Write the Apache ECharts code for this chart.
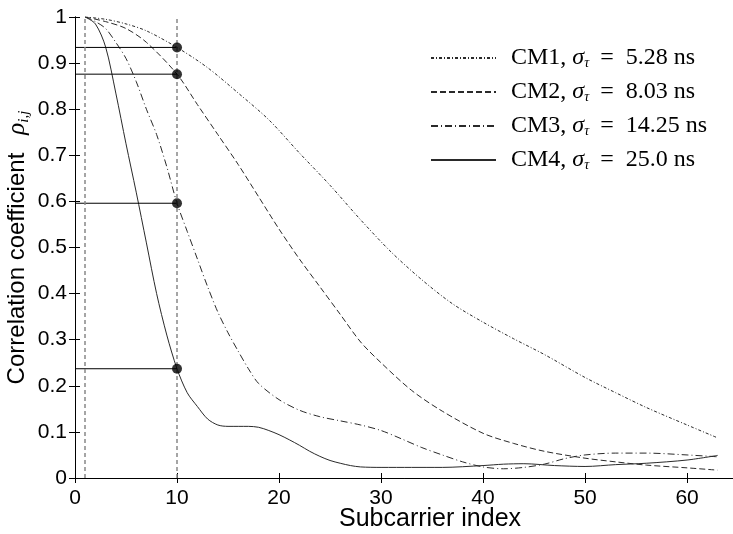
<!DOCTYPE html>
<html>
<head>
<meta charset="utf-8">
<title>Correlation coefficient vs subcarrier index</title>
<script src="https://cdn.jsdelivr.net/npm/echarts@6/dist/echarts.min.js"></script>
<style>
  html, body { margin: 0; padding: 0; background: #fff; }
  #chart { width: 733px; height: 534px; }
</style>
</head>
<body>
<div id="chart"></div>
<script>
// 数据
var names = ["CM1", "CM2", "CM3", "CM4"];
var sigmas = ["5.28", "8.03", "14.25", "25.0"];

var xCM1 = [1, 3, 5, 7, 10, 13, 16, 19, 22, 25, 28, 31, 34, 37, 40, 43, 46, 50, 53, 56, 60, 63];
var yCM1 = [1, 0.995, 0.985, 0.97, 0.934, 0.89, 0.835, 0.777, 0.705, 0.635, 0.56, 0.49, 0.43, 0.378, 0.338, 0.302, 0.268, 0.218, 0.185, 0.153, 0.115, 0.087];

var xCM2 = [1, 3, 5, 7, 10, 12, 14, 16, 18, 20, 22, 24, 26, 28, 30, 33, 36, 40, 43, 46, 50, 53, 56, 60, 63];
var yCM2 = [1, 0.99, 0.975, 0.945, 0.876, 0.81, 0.745, 0.68, 0.61, 0.54, 0.475, 0.415, 0.355, 0.295, 0.25, 0.19, 0.145, 0.097, 0.075, 0.058, 0.043, 0.035, 0.028, 0.022, 0.017];

var xCM3 = [1, 2, 3, 4, 5, 6, 7, 8, 9, 10, 11, 12, 13, 14, 15, 16, 17, 18, 20, 22, 24, 26, 28, 30, 32, 34, 36, 38, 40, 42, 44, 46, 48, 50, 53, 56, 60, 63];
var yCM3 = [1, 0.99, 0.975, 0.945, 0.91, 0.86, 0.8, 0.745, 0.675, 0.596, 0.535, 0.475, 0.415, 0.36, 0.315, 0.275, 0.237, 0.205, 0.17, 0.147, 0.133, 0.124, 0.115, 0.103, 0.085, 0.066, 0.05, 0.035, 0.024, 0.02, 0.023, 0.03, 0.042, 0.05, 0.054, 0.054, 0.05, 0.046];

var xCM4 = [1, 2, 3, 4, 5, 6, 7, 8, 9, 10, 11, 12, 13, 14, 15, 16, 17, 18, 19, 20, 21, 22, 23, 24, 25, 26, 27, 28, 30, 33, 36, 40, 42, 44, 47, 50, 53, 56, 60, 63];
var yCM4 = [1, 0.985, 0.935, 0.835, 0.725, 0.62, 0.51, 0.4, 0.31, 0.237, 0.185, 0.155, 0.128, 0.115, 0.112, 0.112, 0.112, 0.11, 0.103, 0.094, 0.083, 0.071, 0.058, 0.047, 0.038, 0.032, 0.027, 0.024, 0.023, 0.023, 0.023, 0.027, 0.03, 0.031, 0.027, 0.025, 0.029, 0.032, 0.039, 0.049];

// 参考线
var refX = 10;
var refStartX = 1;
var refVals = [0.934, 0.876, 0.596, 0.237];

var xTicks = [0, 10, 20, 30, 40, 50, 60];

function pairs(xs, ys) {
  var out = [];
  for (var i = 0; i < xs.length; i++) out.push([xs[i], ys[i]]);
  return out;
}

var myChart = echarts.init(document.getElementById("chart"), null, { renderer: "canvas" });

var lineColor = "#2a2a2a";
var dashes = [[3, 2, 1, 2], [6, 3], [7, 3, 1, 3], "solid"];
var curves = [[xCM1, yCM1], [xCM2, yCM2], [xCM3, yCM3], [xCM4, yCM4]];

var series = [];
for (var i = 0; i < names.length; i++) {
  series.push({
    name: names[i],
    type: "line",
    data: pairs(curves[i][0], curves[i][1]),
    symbol: "none",
    showSymbol: false,
    smooth: 0.3,
    lineStyle: { color: lineColor, width: 1, type: dashes[i] },
    itemStyle: { color: lineColor },
    z: 3
  });
}

// 横线
for (var j = 0; j < refVals.length; j++) {
  series.push({
    type: "line",
    data: [[0, refVals[j]], [refX, refVals[j]]],
    symbol: "none",
    silent: true,
    lineStyle: { color: "#000", width: 1 },
    z: 4
  });
}

// 竖虚线
series.push({
  type: "line",
  data: [],
  markLine: {
    silent: true,
    symbol: "none",
    label: { show: false },
    lineStyle: { color: "#888", width: 1.5, type: [4, 3] },
    data: [{ xAxis: refStartX }, { xAxis: refX }]
  }
});

// 黑点
series.push({
  type: "scatter",
  data: refVals.map(function (v) { return [refX, v]; }),
  symbol: "circle",
  symbolSize: 10,
  itemStyle: { color: "#000" },
  z: 5
});

var tickFont = { color: "#000", fontSize: 21, fontFamily: "Liberation Sans" };
var serif = "Liberation Serif";

option = {
  animation: false,
  backgroundColor: "#fff",
  grid: { left: 75, top: 17, right: -1, bottom: 56, outerBoundsMode: "none", containLabel: false },
  legend: {
    data: names,
    orient: "vertical",
    left: 425,
    top: 41,
    itemWidth: 65,
    itemHeight: 14,
    itemGap: 10,
    selectedMode: false,
    itemStyle: { opacity: 0 },
    formatter: function (name) {
      var k = names.indexOf(name);
      return "{g|}{t|" + name + ", }{m|σ}{s|τ}{t|=  " + sigmas[k] + " ns}";
    },
    textStyle: {
      rich: {
        g: { width: 10 },
        t: { fontFamily: serif, fontSize: 24, color: "#000", lineHeight: 24 },
        m: { fontFamily: serif, fontStyle: "italic", fontSize: 24, color: "#000", lineHeight: 24 },
        s: { fontFamily: serif, fontStyle: "italic", fontSize: 14, color: "#000", lineHeight: 24, verticalAlign: "bottom", padding: [0, 11, 0, 0] }
      }
    }
  },
  xAxis: [{
    type: "value",
    min: 0,
    max: 64.6,
    interval: 10,
    axisLine: { lineStyle: { color: "#000", width: 1 } },
    axisTick: { inside: true, length: 5, lineStyle: { color: "#000" } },
    axisLabel: Object.assign({
      margin: 10,
      showMaxLabel: false,
      formatter: function (v) { return xTicks.indexOf(v) >= 0 ? String(v) : ""; }
    }, tickFont),
    splitLine: { show: false }
  }, {
    type: "value",
    position: "top",
    min: 0,
    max: 64.6,
    interval: 10,
    axisLine: { show: true, lineStyle: { color: "#000", width: 1 } },
    axisTick: { inside: true, length: 5, lineStyle: { color: "#000" } },
    axisLabel: { show: false },
    splitLine: { show: false }
  }],
  yAxis: [{
    type: "value",
    min: 0,
    max: 1,
    interval: 0.1,
    name: "{a|Correlation coefficient}{g|}{r|ρ}{s|i,j}",
    nameLocation: "middle",
    nameGap: 58,
    nameRotate: 90,
    nameMoveOverlap: false,
    nameTextStyle: {
      verticalAlign: "middle",
      rich: {
        a: { fontFamily: "Liberation Sans", fontSize: 24, color: "#000", lineHeight: 30 },
        g: { width: 18 },
        r: { fontFamily: serif, fontStyle: "italic", fontSize: 25, color: "#000", lineHeight: 30 },
        s: { fontFamily: serif, fontStyle: "italic", fontSize: 15, color: "#000", lineHeight: 30, verticalAlign: "bottom" }
      }
    },
    axisLine: { show: true, lineStyle: { color: "#000", width: 1 } },
    axisTick: { inside: true, length: 5, lineStyle: { color: "#000" } },
    axisLabel: Object.assign({ margin: 8 }, tickFont),
    splitLine: { show: false }
  }, {
    type: "value",
    position: "right",
    min: 0,
    max: 1,
    interval: 0.1,
    axisLine: { show: true, lineStyle: { color: "#000", width: 1 } },
    axisTick: { inside: true, length: 6, lineStyle: { color: "#000" } },
    axisLabel: { show: false },
    splitLine: { show: false }
  }],
  graphic: [{
    type: "text",
    left: 339,
    top: 507,
    style: { text: "Subcarrier index", fontFamily: "Liberation Sans", fontSize: 25, fill: "#000" }
  }],
  series: series
};

// 使用刚指定的配置项和数据显示图表。
myChart.setOption(option);
</script>
</body>
</html>
